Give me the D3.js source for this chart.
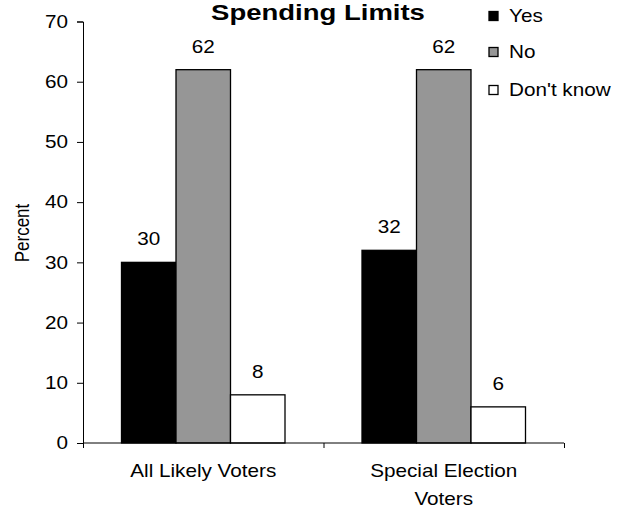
<!DOCTYPE html>
<html>
<head>
<meta charset="utf-8">
<script src="https://cdn.jsdelivr.net/npm/d3@7"></script>
<style>
  html, body { margin: 0; padding: 0; background: #fff; }
  svg { display: block; font-family: "Liberation Sans", Arial, sans-serif; }
</style>
</head>
<body>
<svg id="chart" width="620" height="515"></svg>
<script>
// Chart data
const categories = ["All Likely Voters", "Special Election Voters"];
const categoryLines = [["All Likely Voters"], ["Special Election", "Voters"]];
const series = ["Yes", "No", "Don't know"];
const yesValues = [30, 32];
const noValues = [62, 62];
const dontKnowValues = [8, 6];
const seriesColors = ["#000000", "#969696", "#ffffff"];
const yTicks = [0, 10, 20, 30, 40, 50, 60, 70];

const values = [yesValues, noValues, dontKnowValues];

const svg = d3.select("#chart");
const sx = 1.15; // glyphs are drawn slightly wide
const fontSize = 18;

const plotLeft = 83, plotRight = 564, plotTop = 21.5, plotBottom = 443;

const y = d3.scaleLinear().domain([0, 70]).range([plotBottom, plotTop]);
const x0 = d3.scaleBand().domain(categories).range([plotLeft, plotRight]).padding(0);
const inset = 38.5;
const x1 = d3.scaleBand().domain(series).range([inset, x0.bandwidth() - inset]).padding(0);

// text helper: wide glyphs anchored at (x, y)
function label(g, x, yy, text, opts = {}) {
  const t = g.append("g").attr("transform", `translate(${x},${yy}) scale(${opts.sx || sx},1)`)
    .append("text")
    .attr("text-anchor", opts.anchor || "middle")
    .attr("font-size", opts.size || fontSize)
    .attr("font-weight", opts.weight || "normal")
    .attr("fill", "#000")
    .text(text);
  if (opts.dy) t.attr("dy", opts.dy);
  return t;
}

// Bars
const groups = svg.append("g").selectAll("g")
  .data(categories)
  .join("g")
  .attr("transform", d => `translate(${x0(d)},0)`);

groups.each(function (cat, ci) {
  const g = d3.select(this);
  series.forEach((s, si) => {
    const v = values[si][ci];
    g.append("rect")
      .attr("x", x1(s))
      .attr("y", y(v))
      .attr("width", x1.bandwidth())
      .attr("height", y(0) - y(v))
      .attr("fill", seriesColors[si])
      .attr("stroke", "#000")
      .attr("stroke-width", 1.3);
    label(g, x1(s) + x1.bandwidth() / 2, y(v) - 17, String(v));
  });
});

// Y axis
const yAxis = d3.axisLeft(y).tickValues(yTicks).tickSize(6).tickFormat("");
const yg = svg.append("g").attr("transform", `translate(${plotLeft},0)`).call(yAxis);
yg.select(".domain").attr("stroke", "#000");
yg.selectAll(".tick line").attr("stroke", "#000");
yTicks.forEach(t => label(svg, 68, y(t), String(t), { anchor: "end", dy: "0.35em" }));

// X axis
const xTickPos = [plotLeft, ...categories.slice(1).map(c => x0(c)), plotRight];
const xAxis = d3.axisBottom(d3.scaleLinear().domain([plotLeft, plotRight]).range([plotLeft, plotRight]))
  .tickValues(xTickPos).tickSize(5).tickFormat("");
const xg = svg.append("g").attr("transform", `translate(0,${plotBottom})`).call(xAxis);
xg.select(".domain").attr("stroke", "#000").attr("d", `M${plotLeft},0H${plotRight}`);
xg.selectAll(".tick line").attr("stroke", "#000");

categories.forEach((c, i) => {
  const cx = x0(c) + x0.bandwidth() / 2;
  categoryLines[i].forEach((line, li) => label(svg, cx, 477 + li * 28, line));
});

// Y axis title
svg.append("g").attr("transform", `translate(22,233) scale(${sx},1) rotate(-90)`)
  .append("text").attr("text-anchor", "middle").attr("dy", "0.35em")
  .attr("font-size", 17).text("Percent");

// Chart title
label(svg, 318, 20, "Spending Limits", { size: 22, weight: "bold", sx: 1.25 });

// Legend
const legendY = [16, 52, 90];
series.forEach((s, i) => {
  svg.append("rect")
    .attr("x", 489).attr("y", legendY[i] - 4.5)
    .attr("width", 9).attr("height", 9)
    .attr("fill", seriesColors[i])
    .attr("stroke", "#000").attr("stroke-width", 1.3);
  label(svg, 509, legendY[i], s, { anchor: "start", dy: "0.35em" });
});
</script>
</body>
</html>
